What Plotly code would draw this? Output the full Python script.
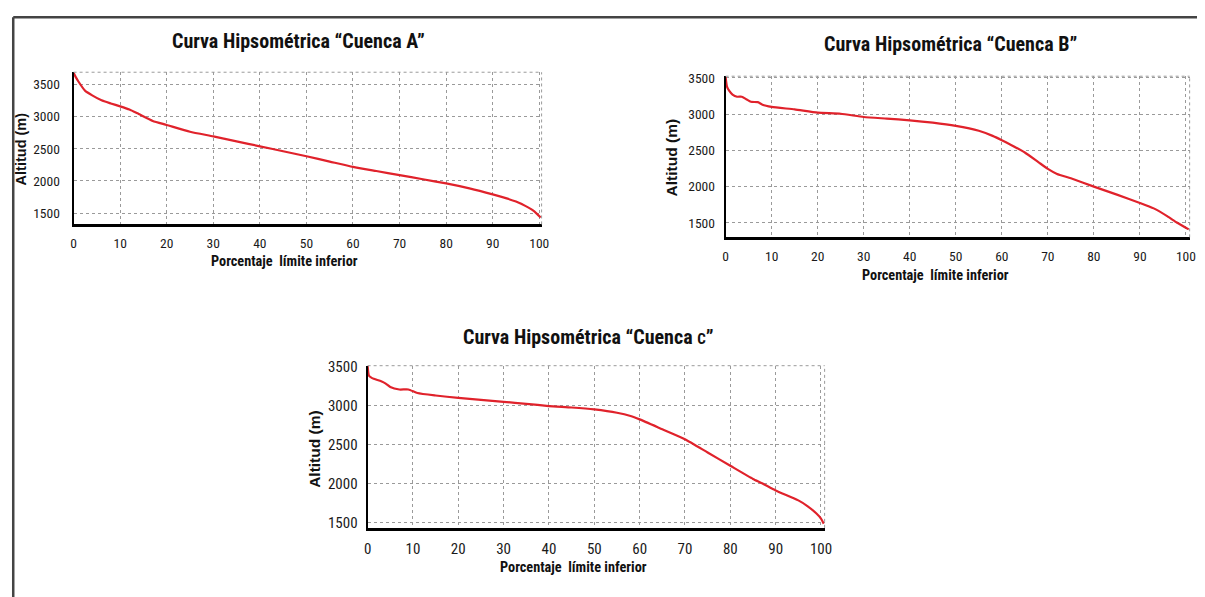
import plotly.graph_objects as go

# ---------------- data ----------------
pct_a = [0, 0.5, 1, 2.5, 4, 6, 8, 10, 12, 14, 17, 20, 25, 30, 35, 40, 45, 50, 55, 60, 65, 70, 75, 80, 85, 90, 93, 95, 97, 98.5, 99.5, 100.3]
alt_a = [3680, 3610, 3550, 3400, 3330, 3253, 3205, 3160, 3110, 3040, 2933, 2871, 2765, 2693, 2615, 2539, 2462, 2384, 2302, 2220, 2155, 2091, 2027, 1963, 1886, 1793, 1730, 1680, 1613, 1550, 1490, 1433]

pct_b = [0, 0.3, 0.8, 1.5, 2.5, 3.5, 4.5, 5.5, 7, 8, 10, 15, 20, 25, 30, 35, 40, 45, 50, 55, 58, 60, 62, 65, 68, 70, 72, 75, 80, 85, 90, 93, 96, 98, 100.6]
alt_b = [3510, 3380, 3320, 3270, 3240, 3240, 3205, 3170, 3165, 3130, 3100, 3065, 3020, 3005, 2960, 2938, 2915, 2883, 2838, 2770, 2700, 2640, 2575, 2470, 2335, 2245, 2175, 2115, 2000, 1890, 1775, 1700, 1590, 1505, 1410]

pct_c = [0, 0.3, 1, 3, 4, 5, 7, 9, 11, 15, 20, 25, 30, 35, 40, 45, 50, 55, 58, 60, 65, 70, 75, 80, 85, 87, 90, 95, 97, 99, 100, 100.6]
alt_c = [3510, 3380, 3350, 3310, 3280, 3237, 3205, 3205, 3160, 3128, 3098, 3072, 3048, 3022, 2993, 2975, 2950, 2908, 2866, 2823, 2697, 2570, 2400, 2230, 2062, 2007, 1915, 1788, 1716, 1620, 1555, 1490]

titles = ["Curva Hipsométrica “Cuenca A”",
          "Curva Hipsométrica “Cuenca B”",
          "Curva Hipsométrica “Cuenca <span style='font-size:15px'>C</span>”"]
x_title = "Porcentaje  límite inferior"
y_title = "Altitud (m)"
x_ticks = [0, 10, 20, 30, 40, 50, 60, 70, 80, 90, 100]
y_ticks = [1500, 2000, 2500, 3000, 3500]

# ---------------- layout helpers ----------------
# target positions are given in window pixels; convert to figure fractions
OX, OY = 8, 8            # body margin
SX, AX = 0.99, 2.5       # observed capture mapping (x)
SY, AY = 0.985, 6.6      # observed capture mapping (y)
W, H = 1205, 597
def fx(x):
    p = (x - AX) / SX - OX
    return min(max(p, 1.25), W) / W
def fy(y):
    p = (y - AY) / SY - OY
    return 1 - min(max(p, 1.25), H) / H

NARROW = "Roboto Condensed, Open Sans Condensed, Liberation Sans, Arial, sans-serif"
WIDE = "Liberation Sans, Arial, sans-serif"
RED = "#e0222b"
GRID = "#9a9a9a"

boxes = [
    dict(l=72, r=540, t=71, b=224, xr=[0, 100.5], yr=[1325, 3690], tick=13.5, ysd=9, ttl=20, yt=14.5),
    dict(l=724, r=1188, t=75, b=237, xr=[0, 100.8], yr=[1300, 3523], tick=13.5, ysd=6, ttl=20, yt=15.5),
    dict(l=366, r=823, t=366, b=529, xr=[0, 100.8], yr=[1437, 3509], tick=15, ysd=5, ttl=20, yt=15.5),
]
title_pos = [(297, 40), (949, 43), (587, 337)]
ytitle_pos = [(19, 148), (670, 157), (313, 450)]
xtitle_pos = [(283, 261), (934, 275), (572, 568)]

series = [(pct_a, alt_a), (pct_b, alt_b), (pct_c, alt_c)]

fig = go.Figure()
layout = dict(
    width=W, height=H,
    margin=dict(l=0, r=0, t=0, b=0),
    paper_bgcolor="white", plot_bgcolor="white",
    showlegend=False,
    font=dict(family=NARROW, color="#1a1a1a"),
)
annotations = []
shapes = []

for i, (bx, (xs, ys)) in enumerate(zip(boxes, series)):
    n = "" if i == 0 else str(i + 1)
    fig.add_trace(go.Scatter(x=xs, y=ys, mode="lines", xaxis="x" + n, yaxis="y" + n,
                             line=dict(color=RED, width=2.2, shape="spline", smoothing=0.5),
                             hoverinfo="skip"))
    layout["xaxis" + n] = dict(
        domain=[fx(bx["l"]), fx(bx["r"])], range=bx["xr"], anchor="y" + n,
        tickvals=x_ticks, showgrid=True, gridcolor=GRID, griddash="dot", gridwidth=1,
        showline=True, linecolor="black", linewidth=2.5, zeroline=False,
        ticks="", ticklabelstandoff=5, tickfont=dict(family=NARROW, size=bx["tick"], color="#1a1a1a"),
        fixedrange=True,
    )
    layout["yaxis" + n] = dict(
        domain=[fy(bx["b"]), fy(bx["t"])], range=bx["yr"], anchor="x" + n,
        tickvals=y_ticks, showgrid=True, gridcolor=GRID, griddash="dot", gridwidth=1,
        showline=True, linecolor="black", linewidth=2, zeroline=False,
        ticks="", ticklabelstandoff=bx["ysd"], tickfont=dict(family=NARROW, size=bx["tick"], color="#1a1a1a"),
        fixedrange=True,
    )
    xa = "x" + n
    ya = "y" + n
    shapes.append(dict(type="line", xref=xa + " domain", yref=ya + " domain",
                       x0=0, x1=1, y0=1, y1=1, line=dict(color=GRID, width=1, dash="dot")))
    shapes.append(dict(type="line", xref=xa + " domain", yref=ya + " domain",
                       x0=1, x1=1, y0=0, y1=1, line=dict(color=GRID, width=1, dash="dot")))
    tx, ty = title_pos[i]
    annotations.append(dict(text="<b>" + titles[i] + "</b>", x=fx(tx), y=fy(ty), xref="paper", yref="paper",
                            showarrow=False, xanchor="center", yanchor="middle",
                            font=dict(family=NARROW, size=bx["ttl"], color="#111")))
    ax_, ay_ = ytitle_pos[i]
    annotations.append(dict(text="<b>" + y_title + "</b>", x=fx(ax_), y=fy(ay_), xref="paper", yref="paper",
                            showarrow=False, textangle=-90, xanchor="center", yanchor="middle",
                            font=dict(family=WIDE, size=bx["yt"], color="#111")))
    bx_, by_ = xtitle_pos[i]
    annotations.append(dict(text="<b>" + x_title + "</b>", x=fx(bx_), y=fy(by_), xref="paper", yref="paper",
                            showarrow=False, xanchor="center", yanchor="middle",
                            font=dict(family=NARROW, size=14.3, color="#111")))

# outer frame (left and top edges)
shapes.append(dict(type="line", xref="paper", yref="paper", x0=fx(8.5), x1=fx(8.5), y0=0, y1=fy(10),
                   line=dict(color="#444", width=2.5)))
shapes.append(dict(type="line", xref="paper", yref="paper", x0=fx(8), x1=1, y0=fy(10.5), y1=fy(10.5),
                   line=dict(color="#444", width=2.5)))

layout["annotations"] = annotations
layout["shapes"] = shapes
fig.update_layout(**layout)
fig.write_html("out.html")
